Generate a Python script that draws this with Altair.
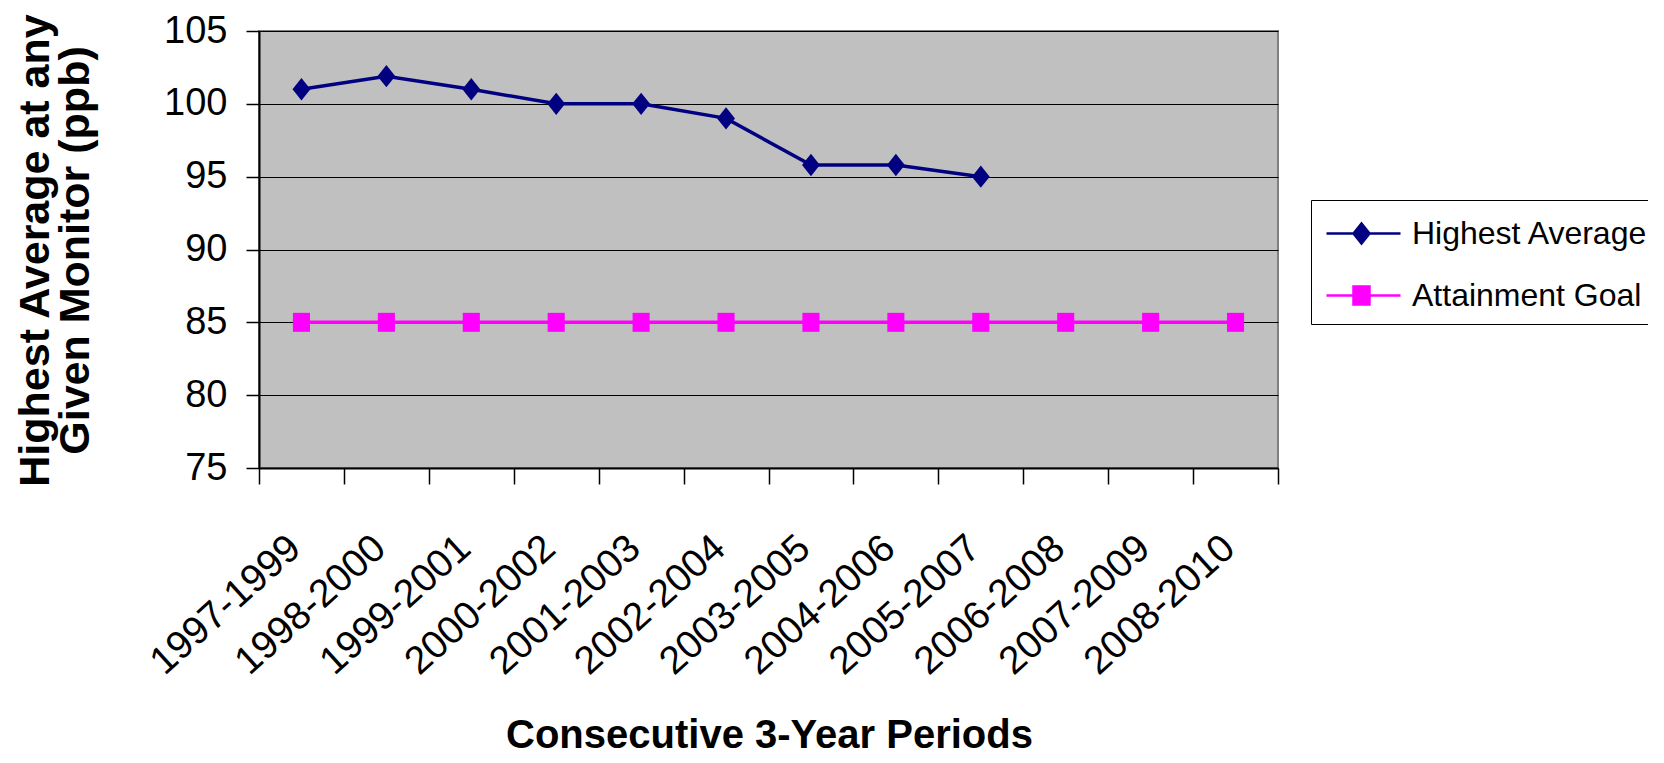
import altair as alt
import pandas as pd

FONT = "Liberation Sans"

periods = ["1997-1999", "1998-2000", "1999-2001", "2000-2002", "2001-2003", "2002-2004",
           "2003-2005", "2004-2006", "2005-2007", "2006-2008", "2007-2009", "2008-2010"]
highest = [101, 101.9, 101, 100, 100, 99, 95.8, 95.8, 95, None, None, None]
goal = [85, 85, 85, 85, 85, 85, 85, 85, 85, 85, 85, 85]
series_names = ["Highest Average", "Attainment Goal"]
series_colors = ["#000080", "#FF00FF"]
y_ticks = [75, 80, 85, 90, 95, 100, 105]

rows = []
for p, h, g in zip(periods, highest, goal):
    if h is not None:
        rows.append({"period": p, "series": series_names[0], "value": h})
    rows.append({"period": p, "series": series_names[1], "value": g})
df = pd.DataFrame(rows)

diamond_path = "M0,-1L0.8,0L0,1L-0.8,0Z"
square_path = "M-0.9,-1L0.9,-1L0.9,1L-0.9,1Z"
legend_paths = [
    "M-0.9,0L2.8,0M0.45,0L0.85,-0.5L1.25,0L0.85,0.5Z",
    "M-0.9,0L2.8,0M0.45,-0.45L1.25,-0.45L1.25,0.45L0.45,0.45Z",
]

x_enc = alt.X(
    "period:N",
    sort=periods,
    scale=alt.Scale(type="band", domain=periods, paddingInner=0, paddingOuter=0),
    axis=alt.Axis(
        title="Consecutive 3-Year Periods",
        labelAngle=318, labelAlign="right", labelBaseline="middle",
        labelFontSize=39, labelFont=FONT, labelColor="black", labelPadding=58, labelOffset=-7,
        labelOverlap=False, labelLimit=400,
        tickSize=16, tickColor="black", tickWidth=1.5, tickBand="extent",
        domainColor="black", domainWidth=2, grid=False,
        titleFontSize=40, titleFont=FONT, titleFontWeight="bold", titleColor="black",
        titleX=510, titleY=279, titleAlign="center", titleBaseline="alphabetic",
    ),
)
y_enc = alt.Y(
    "value:Q",
    scale=alt.Scale(domain=[75, 105], nice=False, zero=False),
    axis=alt.Axis(
        values=y_ticks,
        title=["Highest Average at any", "Given Monitor (ppb)"],
        labelFontSize=38, labelFont=FONT, labelColor="black", labelPadding=19,
        tickSize=13, tickColor="black", tickWidth=1.5,
        grid=True, gridColor="black", gridWidth=1.2,
        domainColor="black", domainWidth=2,
        titleFontSize=43, titleFont=FONT, titleFontWeight="bold", titleColor="black",
        titleAngle=270, titleX=-211, titleY=219, titleAlign="center",
        titleBaseline="alphabetic", titleLineHeight=40,
    ),
)

base = alt.Chart(df)
high_df = base.transform_filter(alt.datum.series == series_names[0])
goal_df = base.transform_filter(alt.datum.series == series_names[1])

line_high = high_df.mark_line(strokeWidth=3.5, color=series_colors[0]).encode(x=x_enc, y=y_enc)
line_goal = goal_df.mark_line(strokeWidth=3.5, color=series_colors[1]).encode(x=x_enc, y=y_enc)

pts_high = high_df.mark_point(
    shape=diamond_path, filled=True, size=500, opacity=1, color=series_colors[0]
).encode(x=x_enc, y=y_enc)

pts_goal = goal_df.mark_point(
    shape=square_path, filled=True, size=361, opacity=1, color=series_colors[1]
).encode(x=x_enc, y=y_enc)

leg = alt.Legend(
    title=None, orient="none", legendX=1052, legendY=169, direction="vertical",
    symbolSize=1600, symbolStrokeWidth=2.5, symbolOpacity=1,
    labelFontSize=32, labelFont=FONT, labelColor="black", labelOffset=46, labelLimit=400,
    rowPadding=24, padding=12, strokeColor="black", fillColor="white",
)

legend_layer = base.mark_point(filled=True, opacity=0, strokeWidth=2.5).encode(
    x=x_enc, y=y_enc,
    shape=alt.Shape("series:N", scale=alt.Scale(domain=series_names, range=legend_paths), legend=leg),
    fill=alt.Fill("series:N", scale=alt.Scale(domain=series_names, range=series_colors), legend=leg),
    stroke=alt.Stroke("series:N", scale=alt.Scale(domain=series_names, range=series_colors), legend=leg),
)

chart = alt.layer(line_high, line_goal, pts_high, pts_goal, legend_layer).properties(
    width=1019, height=437,
    autosize=alt.AutoSizeParams(type="none"),
    padding={"left": 251, "top": 23, "right": 370, "bottom": 287},
    background="white",
).configure(font=FONT).configure_view(
    fill="#C0C0C0", stroke="#808080", strokeWidth=2
)

chart.save("out.html", embed_options={"renderer": "svg", "actions": False})
